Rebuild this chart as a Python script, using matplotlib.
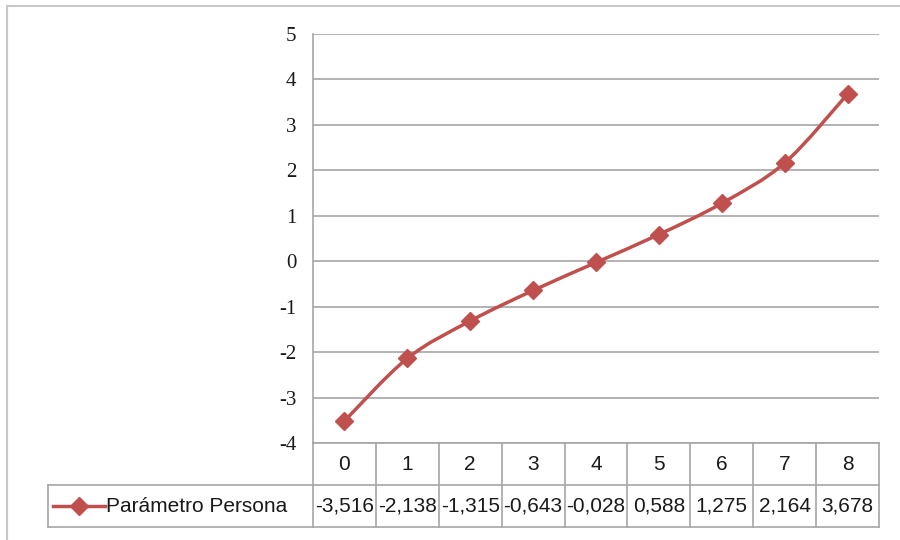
import numpy as np
import matplotlib.pyplot as plt
from matplotlib.path import Path
from matplotlib.patches import PathPatch
from matplotlib.lines import Line2D

plt.rcParams['axes.unicode_minus'] = False

categories = [0, 1, 2, 3, 4, 5, 6, 7, 8]
values = [-3.516, -2.138, -1.315, -0.643, -0.028, 0.588, 1.275, 2.164, 3.678]
value_labels = ["-3,516", "-2,138", "-1,315", "-0,643", "-0,028", "0,588", "1,275", "2,164", "3,678"]
series_name = "Parámetro Persona"
y_ticks = [-4, -3, -2, -1, 0, 1, 2, 3, 4, 5]

line_color = "#C0504D"
grid_color = "#A6A6A6"
W, H = 900, 540

fig = plt.figure(figsize=(9, 5.4), dpi=100)
fig.patch.set_facecolor("white")

# outer chart border (only top and left visible in the crop)
fig.add_artist(Line2D([7 / W, 7 / W], [0, 1 - 6 / H], transform=fig.transFigure, color="#C8C8C8", lw=1.5))
fig.add_artist(Line2D([7 / W, 1], [1 - 6 / H, 1 - 6 / H], transform=fig.transFigure, color="#C8C8C8", lw=1.5))

left, right, top, bottom = 313, 879, 34, 443
ax = fig.add_axes([left / W, 1 - bottom / H, (right - left) / W, (bottom - top) / H])
ax.set_xlim(-0.5, len(categories) - 0.5)
ax.set_ylim(-4, 5)
ax.set_yticks(y_ticks)
ax.set_xticks([])
for sp in ["top", "right", "bottom"]:
    ax.spines[sp].set_visible(False)
ax.spines["left"].set_color(grid_color)
ax.spines["left"].set_linewidth(1.2)
ax.tick_params(axis="y", length=0, pad=12, labelsize=15, labelcolor="#1a1a1a")
for lab in ax.get_yticklabels():
    lab.set_fontfamily("Liberation Serif")
ax.yaxis.grid(True, color=grid_color, lw=1.2)
ax.set_axisbelow(True)

# smoothed line (Catmull-Rom style Bezier as Excel does)
x = np.array(categories, dtype=float)
y = np.array(values)
verts = [(x[0], y[0])]
codes = [Path.MOVETO]
n = len(x)
for i in range(n - 1):
    p0 = (x[max(i - 1, 0)], y[max(i - 1, 0)])
    p1 = (x[i], y[i])
    p2 = (x[i + 1], y[i + 1])
    p3 = (x[min(i + 2, n - 1)], y[min(i + 2, n - 1)])
    c1 = (p1[0] + (p2[0] - p0[0]) / 6, p1[1] + (p2[1] - p0[1]) / 6)
    c2 = (p2[0] - (p3[0] - p1[0]) / 6, p2[1] - (p3[1] - p1[1]) / 6)
    verts += [c1, c2, p2]
    codes += [Path.CURVE4] * 3
ax.add_patch(PathPatch(Path(verts, codes), facecolor="none", edgecolor=line_color, lw=2.5, zorder=3))
ax.plot(categories, values, linestyle="none", marker="D", markersize=9, color=line_color, zorder=4)

# data table below the axis
trans = ax.get_xaxis_transform()
row_h = 42 / (bottom - top)
legend_left = (48 - left) / (right - left)
tcol = "#A6A6A6"
# horizontal lines
for yy in [0, -row_h, -2 * row_h]:
    ax.plot([-0.5, 8.5], [yy, yy], transform=trans, color=tcol, lw=1.2, clip_on=False)
# vertical lines
for xb in np.arange(-0.5, 9.0, 1.0):
    ax.plot([xb, xb], [0, -2 * row_h], transform=trans, color=tcol, lw=1.2, clip_on=False)
# legend cell
ax.plot([legend_left, 0], [-row_h, -row_h], transform=ax.transAxes, color=tcol, lw=1.2, clip_on=False)
ax.plot([legend_left, 0], [-2 * row_h, -2 * row_h], transform=ax.transAxes, color=tcol, lw=1.2, clip_on=False)
ax.plot([legend_left, legend_left], [-row_h, -2 * row_h], transform=ax.transAxes, color=tcol, lw=1.2, clip_on=False)

tfont = dict(family="Liberation Sans", size=15, color="#1a1a1a")
for c, lab in zip(categories, value_labels):
    ax.text(c, -0.5 * row_h, str(c), transform=trans, ha="center", va="center", **tfont)
    ax.text(c, -1.5 * row_h, lab, transform=trans, ha="center", va="center", **tfont)

# legend key
lk0 = (53 - left) / (right - left)
lk1 = (105 - left) / (right - left)
ax.add_artist(Line2D([lk0, lk1], [-1.5 * row_h, -1.5 * row_h], transform=ax.transAxes,
                     color=line_color, lw=2.5, clip_on=False))
ax.add_artist(Line2D([(lk0 + lk1) / 2], [-1.5 * row_h], transform=ax.transAxes, marker="D",
                     markersize=9, color=line_color, clip_on=False))
ax.text((106 - left) / (right - left), -1.5 * row_h, series_name, transform=ax.transAxes,
        ha="left", va="center", **tfont)

fig.savefig("out.png", dpi=100)
